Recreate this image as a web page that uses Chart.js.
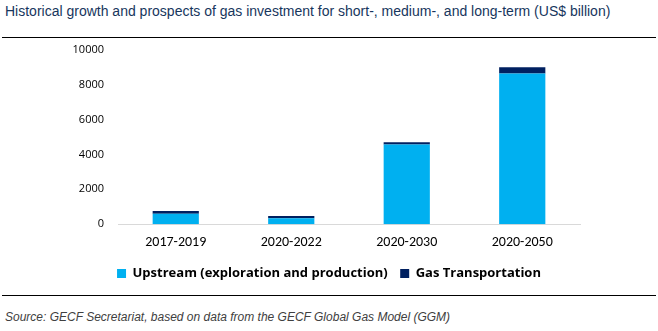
<!DOCTYPE html>
<html>
<head>
<meta charset="utf-8">
<script src="https://cdn.jsdelivr.net/npm/chart.js@4/dist/chart.umd.min.js"></script>
<style>
  body { margin: 0; background: #fff; width: 658px; height: 331px; position: relative; overflow: hidden; }
  #title { position: absolute; left: 5px; top: 3px; font-family: "Liberation Sans", Arial, sans-serif; font-size: 14px; color: #17365D; white-space: nowrap; }
  .rule { position: absolute; left: 2px; width: 654px; height: 0; border-top: 1px solid #000; }
  #source { position: absolute; left: 5px; top: 310px; font-family: "Liberation Sans", Arial, sans-serif; font-size: 12px; font-style: italic; color: #404040; white-space: nowrap; }
  #wrap { position: absolute; left: 0; top: 29px; width: 658px; height: 276px; }
</style>
</head>
<body>
<div id="title">Historical growth and prospects of gas investment for short-, medium-, and long-term (US$ billion)</div>
<div class="rule" style="top:37px"></div>
<div id="wrap"><canvas id="chart"></canvas></div>
<div class="rule" style="top:295px"></div>
<div id="source">Source: GECF Secretariat, based on data from the GECF Global Gas Model (GGM)</div>
<script>
var periods = ["2017-2019", "2020-2022", "2020-2030", "2020-2050"];
var upstream = [600, 340, 4570, 8630];
var transport = [150, 130, 120, 360];
var yTicks = [0, 2000, 4000, 6000, 8000, 10000];

var tickFont = { family: "Carlito, 'Open Sans', sans-serif", size: 14 };

new Chart(document.getElementById("chart"), {
  type: "bar",
  data: {
    labels: periods,
    datasets: [
      { label: "Upstream (exploration and production)", data: upstream, backgroundColor: "#00B0F0",
        categoryPercentage: 1, barPercentage: 0.4 },
      { label: "Gas Transportation", data: transport, backgroundColor: "#002060",
        categoryPercentage: 1, barPercentage: 0.4 }
    ]
  },
  options: {
    responsive: true,
    maintainAspectRatio: false,
    animation: false,
    layout: { padding: { left: 0, right: 0, top: 9, bottom: 15 } },
    plugins: {
      tooltip: { enabled: false },
      legend: {
        position: "bottom",
        labels: {
          boxWidth: 9, boxHeight: 9, padding: 6,
          color: "#000",
          font: { family: "'Open Sans', sans-serif", size: 13, weight: "bold" },
          generateLabels: function(chart) {
            var items = Chart.defaults.plugins.legend.labels.generateLabels(chart);
            // a bit more room between the two entries
            items[0].text = items[0].text + "\u2002";
            return items;
          }
        }
      }
    },
    scales: {
      x: {
        stacked: true,
        grid: { display: false, drawTicks: false },
        border: { color: "#D9D9D9" },
        ticks: { color: "#000", font: tickFont, padding: 10 }
      },
      y: {
        stacked: true,
        min: 0, max: 10000,
        afterBuildTicks: function(s) { s.ticks = yTicks.map(function(v) { return { value: v }; }); },
        afterFit: function(s) { s.width = 118; },
        grid: { display: false, drawTicks: false },
        border: { display: false },
        ticks: {
          color: "#000", font: { family: "'Open Sans', sans-serif", size: 11 }, padding: 14,
          callback: function(v) { return String(v); }
        }
      },
      right: {
        position: "right",
        min: 0, max: 10000,
        afterFit: function(s) { s.width = 78; },
        grid: { display: false, drawTicks: false },
        border: { display: false },
        ticks: { display: false }
      }
    }
  }
});
</script>
</body>
</html>
